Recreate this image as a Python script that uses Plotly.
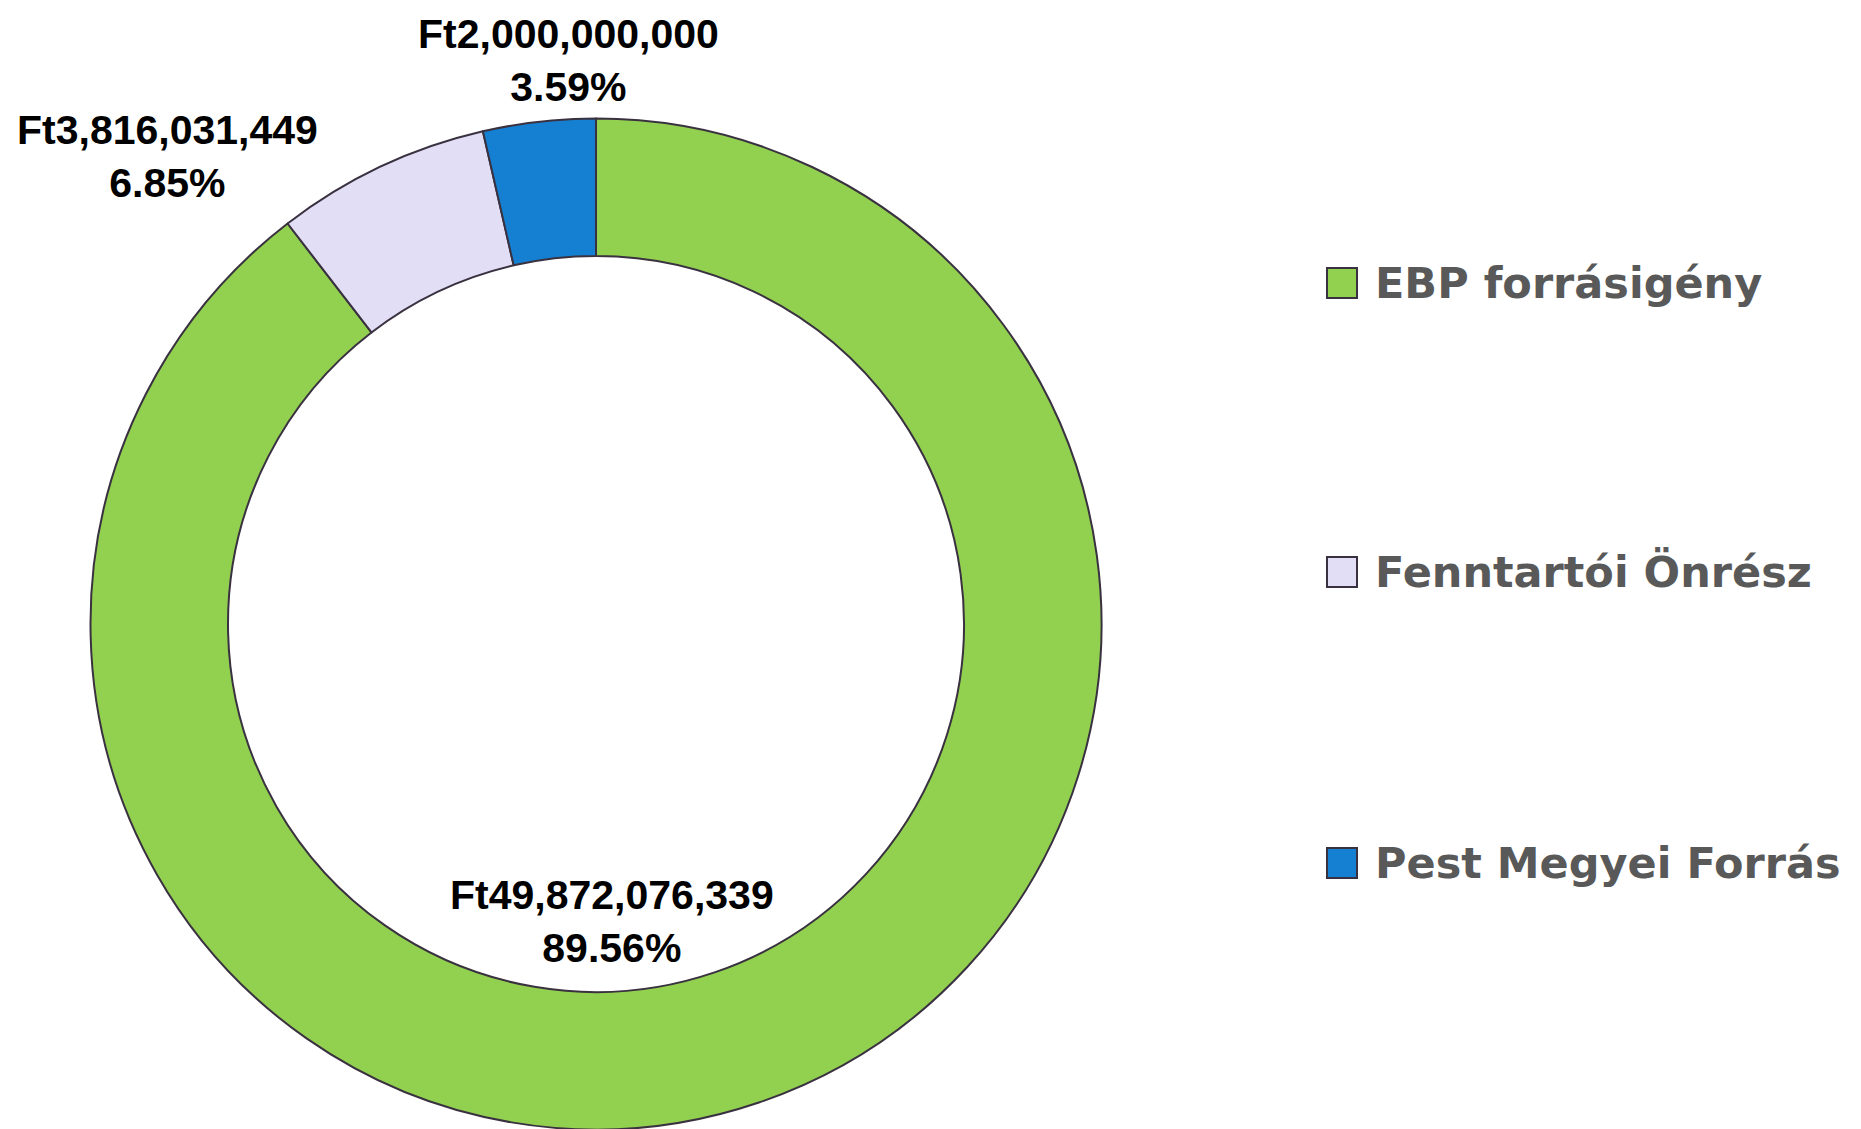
import plotly.graph_objects as go

categories = ["EBP forrásigény", "Fenntartói Önrész", "Pest Megyei Forrás"]
values = [49872076339, 3816031449, 2000000000]
colors = ["#92D050", "#E1DEF5", "#1580D2"]
edge = "#3A3140"

W, H = 1861, 1129
OFF = 8  # page body margin compensation
total = sum(values)

cx, cy, r = 596 - OFF, 624 - OFF, 505.5
fig = go.Figure()
fig.add_trace(go.Pie(
    labels=categories, values=values, sort=False, direction="clockwise",
    rotation=0, hole=0.728,
    marker=dict(colors=colors, line=dict(color=edge, width=2)),
    textinfo="none", showlegend=False,
    domain=dict(x=[(cx - r) / W, (cx + r) / W],
                y=[(H - cy - r) / H, (H - cy + r) / H]),
))

# data label positions (pixel centres in the page)
label_pos = [(612, 921), (167, 156), (568, 60)]
annotations = []
for v, (px, py) in zip(values, label_pos):
    annotations.append(dict(
        x=(px - OFF) / W, y=1 - (py - OFF) / H, xref="paper", yref="paper",
        xanchor="center", yanchor="middle", showarrow=False, borderpad=0,
        text=f"Ft{v:,.0f}<br>{v / total:.2%}",
        font=dict(family="Liberation Sans, Arial", size=41, color="#000000", weight="bold"),
    ))

# legend
legend_y = [283, 572, 863]
shapes = []
for cat, col, ly in zip(categories, colors, legend_y):
    y = ly - OFF
    shapes.append(dict(
        type="rect", xref="paper", yref="paper",
        x0=(1327 - OFF) / W, x1=(1357 - OFF) / W, y0=1 - (y - 15) / H, y1=1 - (y + 15) / H,
        fillcolor=col, line=dict(color=edge, width=2),
    ))
    annotations.append(dict(
        x=(1373 - OFF) / W, y=1 - y / H, xref="paper", yref="paper",
        xanchor="left", yanchor="middle", showarrow=False, text=cat,
        font=dict(family="DejaVu Sans", size=43, color="#595959", weight="bold"),
    ))

fig.update_layout(
    width=W, height=H, margin=dict(l=0, r=0, t=0, b=0),
    paper_bgcolor="white", plot_bgcolor="white",
    annotations=annotations, shapes=shapes, showlegend=False,
)
fig.write_html("out.html")
